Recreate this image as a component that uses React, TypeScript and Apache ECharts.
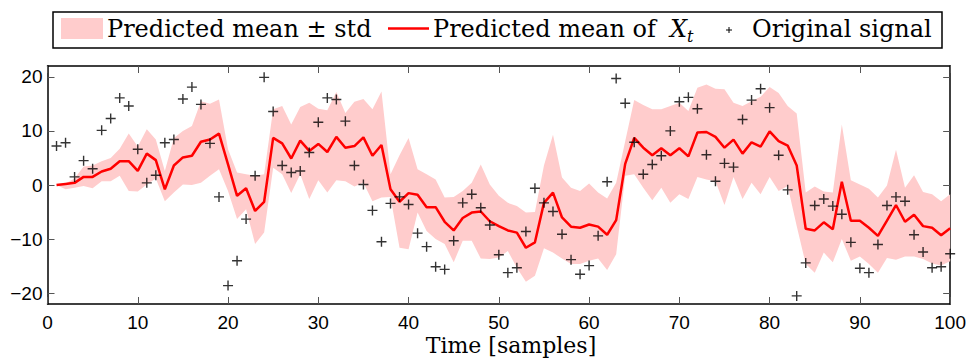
import React, { useEffect, useRef } from "react";
import * as echarts from "echarts";

const times: number[] = Array.from({ length: 100 }, (_, i) => i + 1);

const signal: number[] = [
  7.2, 7.8, 1.5, 4.5, 3.0, 10.1, 12.3, 16.1, 14.6, 6.6,
  0.4, 1.8, 7.8, 8.4, 15.9, 18.1, 14.9, 7.7, -2.2, -18.6,
  -14.0, -6.3, 1.7, 19.9, 13.6, 3.6, 2.3, 2.6, 6.0, 11.6,
  16.1, 15.8, 11.8, 3.6, 0.1, -4.7, -10.5, -3.4, -2.2, -3.6,
  -8.9, -11.4, -15.1, -15.6, -10.3, -3.3, -1.7, -4.2, -7.4, -12.9,
  -16.2, -15.3, -8.6, -0.6, -3.3, -4.9, -9.1, -13.8, -16.5, -14.9,
  -9.4, 0.6, 19.7, 15.1, 7.9, 2.0, 3.8, 5.4, 10.0, 15.4,
  16.2, 14.1, 5.6, 0.7, 4.0, 3.3, 12.1, 15.7, 17.8, 14.3,
  5.5, -0.9, -20.5, -14.4, -3.8, -2.6, -3.9, -5.4, -10.6, -15.4,
  -16.2, -11.0, -3.8, -2.2, -3.0, -9.2, -12.4, -15.3, -15.1, -12.7,
];

const meanValues: number[] = [
  0, 0.2, 0.4, 1.5, 1.5, 2.5, 3.0, 4.4, 4.4, 2.6,
  5.8, 4.6, -0.8, 3.6, 5.1, 5.4, 8.0, 8.4, 9.5, 3.8,
  -2.0, -0.6, -4.8, -3.1, 8.7, 7.7, 4.9, 8.2, 6.3, 7.6,
  6.1, 8.9, 6.9, 7.2, 8.8, 5.4, 7.4, -0.8, -3.1, -1.5,
  -1.8, -4.1, -4.1, -6.8, -8.4, -6.1, -5.1, -4.9, -6.7, -7.6,
  -8.4, -8.8, -11.6, -10.6, -3.3, -1.4, -6.0, -7.7, -7.9, -7.3,
  -7.7, -9.2, -6.5, 3.9, 8.7, 6.9, 5.5, 6.8, 5.5, 6.8,
  5.3, 9.7, 9.8, 8.9, 6.9, 8.4, 5.8, 7.9, 7.1, 9.9,
  8.1, 7.3, 3.6, -8.1, -8.4, -6.9, -8.2, 0.6, -6.6, -6.6,
  -7.9, -9.4, -6.6, -3.7, -6.8, -5.5, -7.6, -7.9, -9.3, -8.0,
];

const upperValues: number[] = [
  0, 0.3, 1.2, 3.4, 3.6, 4.4, 5.0, 6.7, 9.5, 7.1,
  10.3, 8.4, 2.6, 8.7, 10.0, 10.9, 15.5, 15.0, 15.8, 6.6,
  2.3, 2.0, 1.7, 2.0, 14.0, 14.6, 11.2, 14.4, 15.2, 14.1,
  13.8, 17.2, 13.3, 15.4, 15.9, 14.0, 17.3, 2.0, 5.5, 8.7,
  2.9, 2.0, 1.0, -2.3, -2.2, -1.1, 0.4, 3.8, 0.1, -2.0,
  -3.3, -3.9, -5.1, -5.0, 3.6, 9.3, 1.4, -0.5, -1.1, 0.3,
  -1.4, -2.5, 0.4, 8.1, 15.7, 14.8, 14.0, 14.0, 14.6, 15.2,
  13.7, 18.0, 18.6, 17.8, 17.7, 15.2, 14.6, 15.5, 16.3, 18.1,
  17.0, 14.6, 13.2, -1.4, -0.3, -1.2, -1.4, 11.2, 0.9, 0.1,
  -0.7, -2.3, -0.1, 6.5, -0.5, 1.8, -1.3, -1.7, -3.0, -1.7,
];

const lowerValues: number[] = [
  0, -0.8, -0.5, -0.2, -0.6, 0.7, 0.7, 1.7, -1.1, -1.2,
  0.1, 1.2, -3.0, -1.4, 0.1, 0, 0.4, 1.7, 2.9, -1.1,
  -6.3, -4.5, -10.9, -8.8, 3.2, 2.0, -1.5, 2.0, -2.6, 0.9,
  -1.4, 0.9, 0.7, -0.3, 0.4, -3.0, -2.3, -2.2, -11.6, -11.9,
  -5.1, -8.5, -10.0, -10.9, -14.3, -10.3, -10.3, -13.6, -13.7, -13.4,
  -12.2, -15.3, -17.9, -16.8, -11.7, -12.5, -13.6, -14.6, -14.6, -14.0,
  -13.6, -15.7, -12.8, 1.7, 2.0, -0.5, -2.8, -0.5, -3.3, -1.7,
  -2.6, 1.5, 1.0, 0.7, -3.7, 1.5, -2.6, 0.4, -1.7, 1.5,
  -1.1, -0.2, -7.6, -14.6, -16.2, -12.5, -14.3, -10.0, -14.0, -13.2,
  -14.6, -16.2, -13.5, -13.8, -13.2, -13.2, -13.7, -14.5, -14.9, -14.1,
];

const yTicks: number[] = [-20, -10, 0, 10, 20];

const legendLabels = {
  band: "Predicted mean \u00b1 std",
  mean: "Predicted mean of ",
  signal: "Original signal",
};
const xAxisTitle = "Time [samples]";

const SERIF = "'DejaVu Serif', 'Liberation Serif', serif";
const SANS = "'Liberation Sans', Arial, sans-serif";

const PLUS = "path://M4.3,0H5.7V4.3H10V5.7H5.7V10H4.3V5.7H0V4.3H4.3Z";

const minusFmt = (v: number) => String(v).replace("-", "\u2212");

export default function App() {
  const ref = useRef<HTMLDivElement>(null);

  useEffect(() => {
    if (!ref.current) return;
    const chart = echarts.init(ref.current, undefined, { renderer: "svg" });

    const bandData = times.map((t, i) => [t, lowerValues[i], upperValues[i]]);
    const meanData = times.map((t, i) => [t, meanValues[i]]);
    const signalData = times.map((t, i) => [t, signal[i]]);

    const axisLine = { show: true, onZero: false, lineStyle: { color: "#000", width: 1.5 } };
    const tickStyle = { color: "#555", width: 1 };

    chart.setOption({
      animation: false,
      backgroundColor: "#fff",
      grid: { left: 47.5, top: 66, width: 905, height: 238, containLabel: false },
      xAxis: [
        {
          type: "value",
          min: 0,
          max: 100,
          interval: 10,
          position: "bottom",
          axisLine,
          axisTick: { show: true, inside: true, length: 7, lineStyle: tickStyle },
          axisLabel: { color: "#000", fontFamily: SANS, fontSize: 19, margin: 9 },
          splitLine: { show: false },
        },
        {
          type: "value",
          min: 0,
          max: 100,
          interval: 10,
          position: "top",
          axisLine,
          axisTick: { show: true, inside: true, length: 7, lineStyle: tickStyle },
          axisLabel: { show: false },
          splitLine: { show: false },
        },
      ],
      yAxis: [
        {
          type: "value",
          min: -22,
          max: 22,
          position: "left",
          axisLine,
          axisTick: { show: true, inside: true, length: 7, lineStyle: tickStyle, customValues: yTicks },
          axisLabel: {
            color: "#000",
            fontFamily: SANS,
            fontSize: 19,
            margin: 5,
            customValues: yTicks,
            formatter: minusFmt,
          },
          splitLine: { show: false },
        },
        {
          type: "value",
          min: -22,
          max: 22,
          position: "right",
          axisLine,
          axisTick: { show: true, inside: true, length: 7, lineStyle: tickStyle, customValues: yTicks },
          axisLabel: { show: false },
          splitLine: { show: false },
        },
      ],
      series: [
        {
          type: "custom",
          name: legendLabels.band,
          data: bandData,
          silent: true,
          z: 1,
          renderItem: (params: any, api: any) => {
            if (params.dataIndex !== 0) return null;
            const top = bandData.map((d) => api.coord([d[0], d[2]]));
            const bottom = bandData
              .slice()
              .reverse()
              .map((d) => api.coord([d[0], d[1]]));
            return {
              type: "polygon",
              shape: { points: top.concat(bottom) },
              style: { fill: "#ffcccc", stroke: "none" },
            };
          },
        },
        {
          type: "line",
          name: "mean",
          data: meanData,
          symbol: "none",
          lineStyle: { color: "#ff0000", width: 2.5 },
          z: 2,
        },
        {
          type: "scatter",
          name: legendLabels.signal,
          data: signalData,
          symbol: PLUS,
          symbolSize: 10,
          itemStyle: { color: "#000" },
          z: 3,
        },
      ],
      graphic: [
        {
          type: "rect",
          shape: { x: 53, y: 12, width: 889, height: 36 },
          style: { fill: "#fff", stroke: "#000", lineWidth: 1.5 },
          z: 10,
        },
        {
          type: "rect",
          shape: { x: 61, y: 18, width: 42, height: 21 },
          style: { fill: "#ffcccc" },
          z: 11,
        },
        {
          type: "text",
          x: 107,
          y: 29,
          style: { text: legendLabels.band, fontFamily: SERIF, fontSize: 24, fill: "#000", verticalAlign: "middle", align: "left" },
          z: 11,
        },
        {
          type: "line",
          shape: { x1: 388, y1: 28.5, x2: 429, y2: 28.5 },
          style: { stroke: "#ff0000", lineWidth: 2.5 },
          z: 11,
        },
        {
          type: "text",
          x: 433,
          y: 29,
          style: { text: legendLabels.mean, fontFamily: SERIF, fontSize: 24, fill: "#000", verticalAlign: "middle", align: "left" },
          z: 11,
        },
        {
          type: "text",
          x: 670,
          y: 29,
          style: { text: "X", fontFamily: SERIF, fontStyle: "italic", fontSize: 24, fill: "#000", verticalAlign: "middle", align: "left" },
          z: 11,
        },
        {
          type: "text",
          x: 687,
          y: 36,
          style: { text: "t", fontFamily: SERIF, fontStyle: "italic", fontSize: 16, fill: "#000", verticalAlign: "middle", align: "left" },
          z: 11,
        },
        {
          type: "line",
          shape: { x1: 726, y1: 30, x2: 732, y2: 30 },
          style: { stroke: "#000", lineWidth: 1 },
          z: 11,
        },
        {
          type: "line",
          shape: { x1: 729, y1: 27, x2: 729, y2: 33 },
          style: { stroke: "#000", lineWidth: 1 },
          z: 11,
        },
        {
          type: "text",
          x: 752,
          y: 29,
          style: { text: legendLabels.signal, fontFamily: SERIF, fontSize: 24, fill: "#000", verticalAlign: "middle", align: "left" },
          z: 11,
        },
        {
          type: "text",
          x: 511,
          y: 345,
          style: { text: xAxisTitle, fontFamily: SERIF, fontSize: 22, fill: "#000", verticalAlign: "middle", align: "center" },
          z: 11,
        },
      ],
    });

    return () => chart.dispose();
  }, []);

  return <div ref={ref} style={{ width: 969, height: 358, position: "absolute", left: 0, top: 0 }} />;
}
